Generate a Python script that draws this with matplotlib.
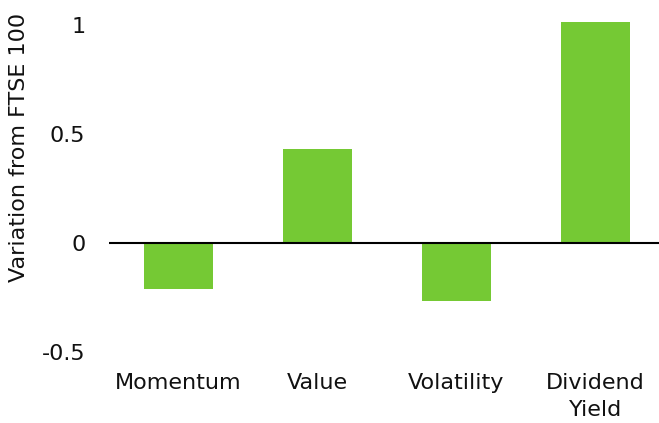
import matplotlib
matplotlib.use("Agg")
import matplotlib.pyplot as plt

categories = ["Momentum", "Value", "Volatility", "Dividend\nYield"]
variation = [-0.21, 0.43, -0.265, 1.015]
y_ticks = [-0.5, 0, 0.5, 1]
y_tick_labels = ["-0.5", "0", "0.5", "1"]

plt.rcParams["font.family"] = ["DejaVu Sans"]

fig = plt.figure(figsize=(6.59, 4.23), dpi=100)
ax = fig.add_axes([109 / 659, 71 / 423, 550 / 659, 338 / 423])

ax.bar(range(len(categories)), variation, width=0.5, color="#75c934")
ax.axhline(0, color="black", linewidth=1.5)

ax.set_xlim(-0.5, 3.457)
ax.set_ylim(-0.5, 1.05)
ax.set_yticks(y_ticks)
ax.set_yticklabels(y_tick_labels, fontsize=16, color="#111111")
ax.set_xticks(range(len(categories)))
ax.set_xticklabels(categories, fontsize=16, color="#111111", linespacing=1.45)
ax.tick_params(axis="y", length=0, pad=17)
ax.tick_params(axis="x", length=0, pad=15)
for s in ax.spines.values():
    s.set_visible(False)

fig.text(19 / 659, 1 - 147 / 423, "Variation from FTSE 100", rotation=90,
         ha="center", va="center", fontsize=16, color="#111111")

fig.savefig("out.png", dpi=100)
